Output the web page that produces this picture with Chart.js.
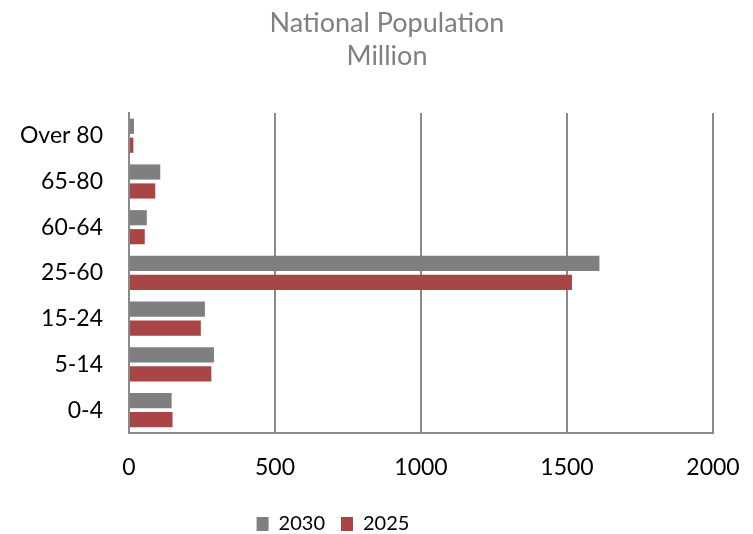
<!DOCTYPE html>
<html>
<head>
<meta charset="utf-8">
<title>National Population</title>
<script src="https://cdn.jsdelivr.net/npm/chart.js@4"></script>
<style>
    html, body { margin: 0; padding: 0; background: #fff; overflow: hidden; }
    #wrap { width: 753px; height: 544px; }
</style>
</head>
<body>
<div id="wrap"><canvas id="popChart"></canvas></div>
<script>
// age groups, top to bottom
let ageGroups = ['Over 80', '65-80', '60-64', '25-60', '15-24', '5-14', '0-4'];
// population in million
let pop2030 = [17, 107, 61, 1611, 260, 291, 146];
let pop2025 = [15, 90, 54, 1517, 246, 282, 149];
let xTicks = [0, 500, 1000, 1500, 2000];

let gridColor = '#8a8a8a';

// title and legend are not centred on the same line, shift them after layout
let shiftBlocks = {
    id: 'shiftBlocks',
    afterLayout: function (chart) {
        chart.titleBlock.left = 21;
        chart.titleBlock.right = 753;
        chart.legend.left = 0;
        chart.legend.right = 666;
    }
};

let ctx = document.getElementById('popChart');
let myChart = new Chart(ctx, {
    type: 'bar',
    data: {
        labels: ageGroups,
        datasets: [{
            label: '2030',
            data: pop2030,
            backgroundColor: '#7f7f7f',
            categoryPercentage: 0.83,
            barPercentage: 0.8
        }, {
            label: '2025',
            data: pop2025,
            backgroundColor: '#a94545',
            categoryPercentage: 0.83,
            barPercentage: 0.8
        }]
    },
    plugins: [shiftBlocks],
    options: {
        indexAxis: 'y',
        responsive: true,
        maintainAspectRatio: false,
        animation: false,
        layout: { padding: { left: 0, right: 40, top: 0, bottom: 0 } },
        plugins: {
            title: {
                display: true,
                text: ['National Population', 'Million'],
                color: '#808080',
                font: { family: 'Lato', size: 27, weight: 'normal', lineHeight: 1.22 },
                padding: { top: 7, bottom: 40 }
            },
            legend: {
                position: 'bottom',
                labels: {
                    color: '#000',
                    boxWidth: 12,
                    boxHeight: 14,
                    padding: 16,
                    font: { family: 'Lato', size: 20 }
                }
            },
            tooltip: { enabled: false }
        },
        scales: {
            x: {
                min: 0,
                max: 2000,
                afterBuildTicks: function (scale) {
                    scale.ticks = xTicks.map(v => ({ value: v }));
                },
                afterFit: function (scale) {
                    scale.height = 65;
                    scale.paddingLeft = 0;
                    scale.paddingRight = 0;
                },
                grid: { color: gridColor, lineWidth: 2, drawTicks: false },
                border: { color: gridColor, width: 2 },
                ticks: {
                    color: '#000',
                    padding: 21,
                    maxRotation: 0,
                    font: { family: 'Lato', size: 23 },
                    callback: function (value) { return String(value); }
                }
            },
            y: {
                afterFit: function (scale) {
                    scale.width = 129;
                    scale.paddingTop = 0;
                    scale.paddingBottom = 0;
                },
                grid: { display: false, drawTicks: false },
                border: { color: gridColor, width: 2 },
                ticks: {
                    color: '#000',
                    padding: 26,
                    font: { family: 'Lato', size: 23 }
                }
            }
        }
    }
});
</script>
</body>
</html>
